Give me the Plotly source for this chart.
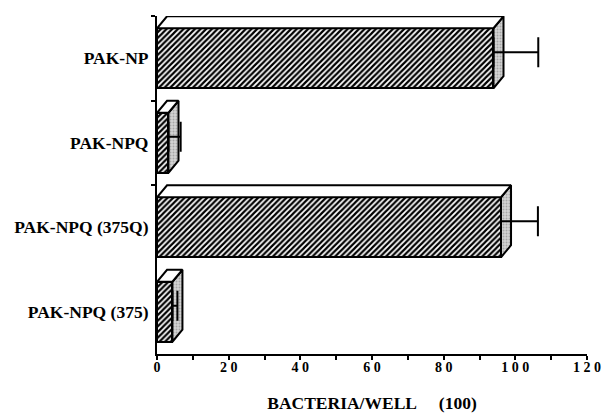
import plotly.graph_objects as go

categories = ["PAK-NP", "PAK-NPQ", "PAK-NPQ (375Q)", "PAK-NPQ (375)"]
values = [93.9, 3.2, 96.0, 4.3]
errors = [12.5, 3.4, 10.3, 1.4]
x_tick_vals = [0, 10, 20, 30, 40, 50, 60, 70, 80, 90, 100, 110, 120]
x_tick_text = ["0", "", "2 0", "", "4 0", "", "6 0", "", "8 0", "", "1 0 0", "", "1 2 0"]
x_title = "BACTERIA/WELL\u00a0\u00a0\u00a0\u00a0\u00a0(100)"

n = len(categories)
pos = [n - 1 - i for i in range(n)]  # top to bottom
bar_w = 0.71
dx = 2.8    # depth in x units
dy = 0.142  # depth in category units

FONT = "Liberation Serif, Times New Roman, serif"

fig = go.Figure()

# front faces
fig.add_trace(go.Bar(
    x=values, y=pos, orientation="h", width=bar_w,
    marker=dict(color="white", line=dict(color="black", width=2),
                pattern=dict(shape="/", size=4, solidity=0.55,
                             fgcolor="black", bgcolor="white", fillmode="replace")),
    hoverinfo="skip", showlegend=False,
))

# side and top faces
for v, c in zip(values, pos):
    lo, hi = c - bar_w / 2, c + bar_w / 2
    fig.add_trace(go.Scatter(
        x=[v, v, v + dx, v + dx, v], y=[lo, hi, hi + dy, lo + dy, lo],
        mode="lines", fill="toself", fillcolor="#cfcfcf",
        fillpattern=dict(shape=".", size=3, solidity=0.35, fgcolor="#777777", bgcolor="#d4d4d4"),
        line=dict(color="black", width=2), hoverinfo="skip", showlegend=False,
    ))
    fig.add_trace(go.Scatter(
        x=[0, v, v + dx, dx, 0], y=[hi, hi, hi + dy, hi + dy, hi],
        mode="lines", fill="toself", fillcolor="white",
        line=dict(color="black", width=2), hoverinfo="skip", showlegend=False,
    ))

# error bars
fig.add_trace(go.Scatter(
    x=values, y=[c + dy / 2 for c in pos], mode="markers",
    marker=dict(size=1, color="rgba(0,0,0,0)"),
    error_x=dict(type="data", symmetric=False, array=errors, arrayminus=[0] * n,
                 color="black", thickness=2, width=15),
    hoverinfo="skip", showlegend=False,
))

fig.update_layout(
    width=603, height=413,
    margin=dict(l=157, r=16, t=16, b=59),
    plot_bgcolor="white", paper_bgcolor="white",
    font=dict(family=FONT, color="black"),
    bargap=0,
    xaxis=dict(
        range=[0, 120], tickvals=x_tick_vals, ticktext=x_tick_text,
        ticks="outside", ticklen=4, tickwidth=1.5, tickcolor="black",
        showline=True, linecolor="black", linewidth=2,
        showgrid=False, zeroline=False, automargin=False,
        ticklabeloverflow="allow", ticklabelstandoff=-5,
        tickfont=dict(family=FONT, size=14, weight="bold"),
        title=dict(text=x_title, font=dict(family=FONT, size=17.5, weight="bold"), standoff=27),
    ),
    yaxis=dict(
        range=[-0.5, n - 0.5], tickvals=pos, ticktext=categories,
        ticks="", ticklabelstandoff=3, automargin=False,
        showline=True, linecolor="black", linewidth=2,
        showgrid=False, zeroline=False,
        tickfont=dict(family=FONT, size=17.5, weight="bold"),
        minor=dict(tickvals=[p + 0.5 for p in pos[:-1]] + [n - 0.5], ticks="outside",
                   ticklen=4, tickwidth=1.5, tickcolor="black", showgrid=False),
    ),
)

# remove the default page margin so the figure fills the 603x413 window exactly
fig.write_html(
    "out.html",
    config={"displayModeBar": False},
    post_script="document.body.style.margin='0';document.body.style.overflow='hidden';",
)
